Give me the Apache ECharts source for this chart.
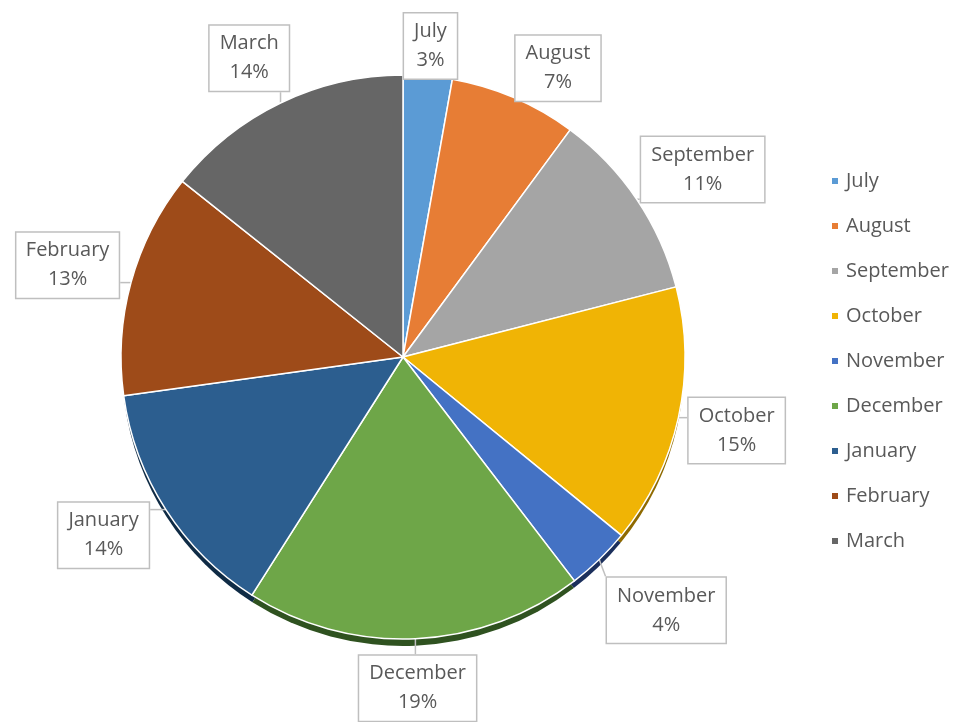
<!DOCTYPE html>
<html>
<head>
<meta charset="utf-8">
<script src="https://cdn.jsdelivr.net/npm/echarts@6/dist/echarts.min.js"></script>
<style>html,body{margin:0;padding:0;background:#fff;}#c{width:957px;height:722px;}</style>
</head>
<body>
<div id="c"></div>
<script>
const months = ['July','August','September','October','November','December','January','February','March'];
const values = [2.8, 7.3, 10.9, 14.9, 3.7, 19.4, 13.8, 12.9, 14.3];
const colors = ['#5B9BD5','#E77D35','#A5A5A5','#F0B405','#4472C4','#6EA648','#2C5E8F','#9E4B19','#666666'];
const darkColors = ['#2E5F8C','#8F4210','#5E5E5E','#8F6A00','#1B2F5C','#2F5220','#0F2B45','#532407','#333333'];
// callout placement tweaks: gap from pie edge (px) and angular shift (deg)
const labelGaps = [-6, -5, 0, 4, 16, 13, 9, 6, 5];
const labelTurns = [0, 5, 2, 0, -2, 0, 2, 0, -1.5];

const FONT = '"Open Sans", Lato, sans-serif';
const CX = 403, CY = 357, R = 282;
const chart = echarts.init(document.getElementById('c'), null, {renderer:'canvas'});
const dataMain = months.map((m,i)=>({name:m, value:values[i], itemStyle:{color:colors[i]}}));
const dataShadow = months.map((m,i)=>({name:m, value:values[i], itemStyle:{color:darkColors[i]}}));

function layout(p){
  if (p.seriesIndex !== 0 || !p.labelLinePoints) return {};
  const p0 = p.labelLinePoints[0];
  const ang = Math.atan2(p0[1]-CY, p0[0]-CX) + labelTurns[p.dataIndex]*Math.PI/180;
  const dx = Math.cos(ang), dy = Math.sin(ang);
  const bx = CX + dx*R, by = CY + dy*R;
  const w = p.labelRect.width, h = p.labelRect.height;
  const ext = Math.abs(dx)*w/2 + Math.abs(dy)*h/2 + labelGaps[p.dataIndex];
  const cx = bx + dx*ext, cy = by + dy*ext;
  const x0 = cx - w/2, y0 = cy - h/2;
  const ex = Math.min(Math.max(p0[0], x0), x0+w);
  const ey = Math.min(Math.max(p0[1], y0), y0+h);
  return {
    x: cx, y: cy, align:'center', verticalAlign:'middle',
    labelLinePoints: [[p0[0],p0[1]],[(p0[0]+ex)/2,(p0[1]+ey)/2],[ex,ey]]
  };
}

chart.setOption({
  animation:false,
  backgroundColor:'#fff',
  legend:{
    orient:'vertical', left:825, top:166,
    itemWidth:8, itemHeight:8, itemGap:25, icon:'rect',
    textStyle:{fontFamily:FONT, fontSize:20, color:'#595959', padding:[0,0,0,2]},
    data: months.map((m,i)=>({name:m, itemStyle:{color:colors[i]}}))
  },
  series:[
    {
      type:'pie',
      center:[CX,CY], radius:R, startAngle:90, clockwise:true,
      itemStyle:{borderColor:'#fff', borderWidth:1.5},
      label:{
        show:true, position:'outside', overflow:'none',
        formatter: p => p.name + '\n' + Math.round(p.percent) + '%',
        fontFamily:FONT, fontSize:20, color:'#595959', lineHeight:29,
        backgroundColor:'#fff', borderColor:'#BFBFBF', borderWidth:1.5,
        padding:[4,10,3,10]
      },
      labelLine:{show:true, length:8, length2:6, lineStyle:{color:'#BFBFBF', width:1.5}},
      labelLayout: layout,
      data:dataMain, z:3
    },
    {
      type:'pie', silent:true, legendHoverLink:false,
      center:[CX,CY+8], radius:R-1, startAngle:90, clockwise:true,
      label:{show:false}, labelLine:{show:false},
      itemStyle:{borderWidth:0},
      data:dataShadow, z:1
    }
  ]
});
</script>
</body>
</html>
